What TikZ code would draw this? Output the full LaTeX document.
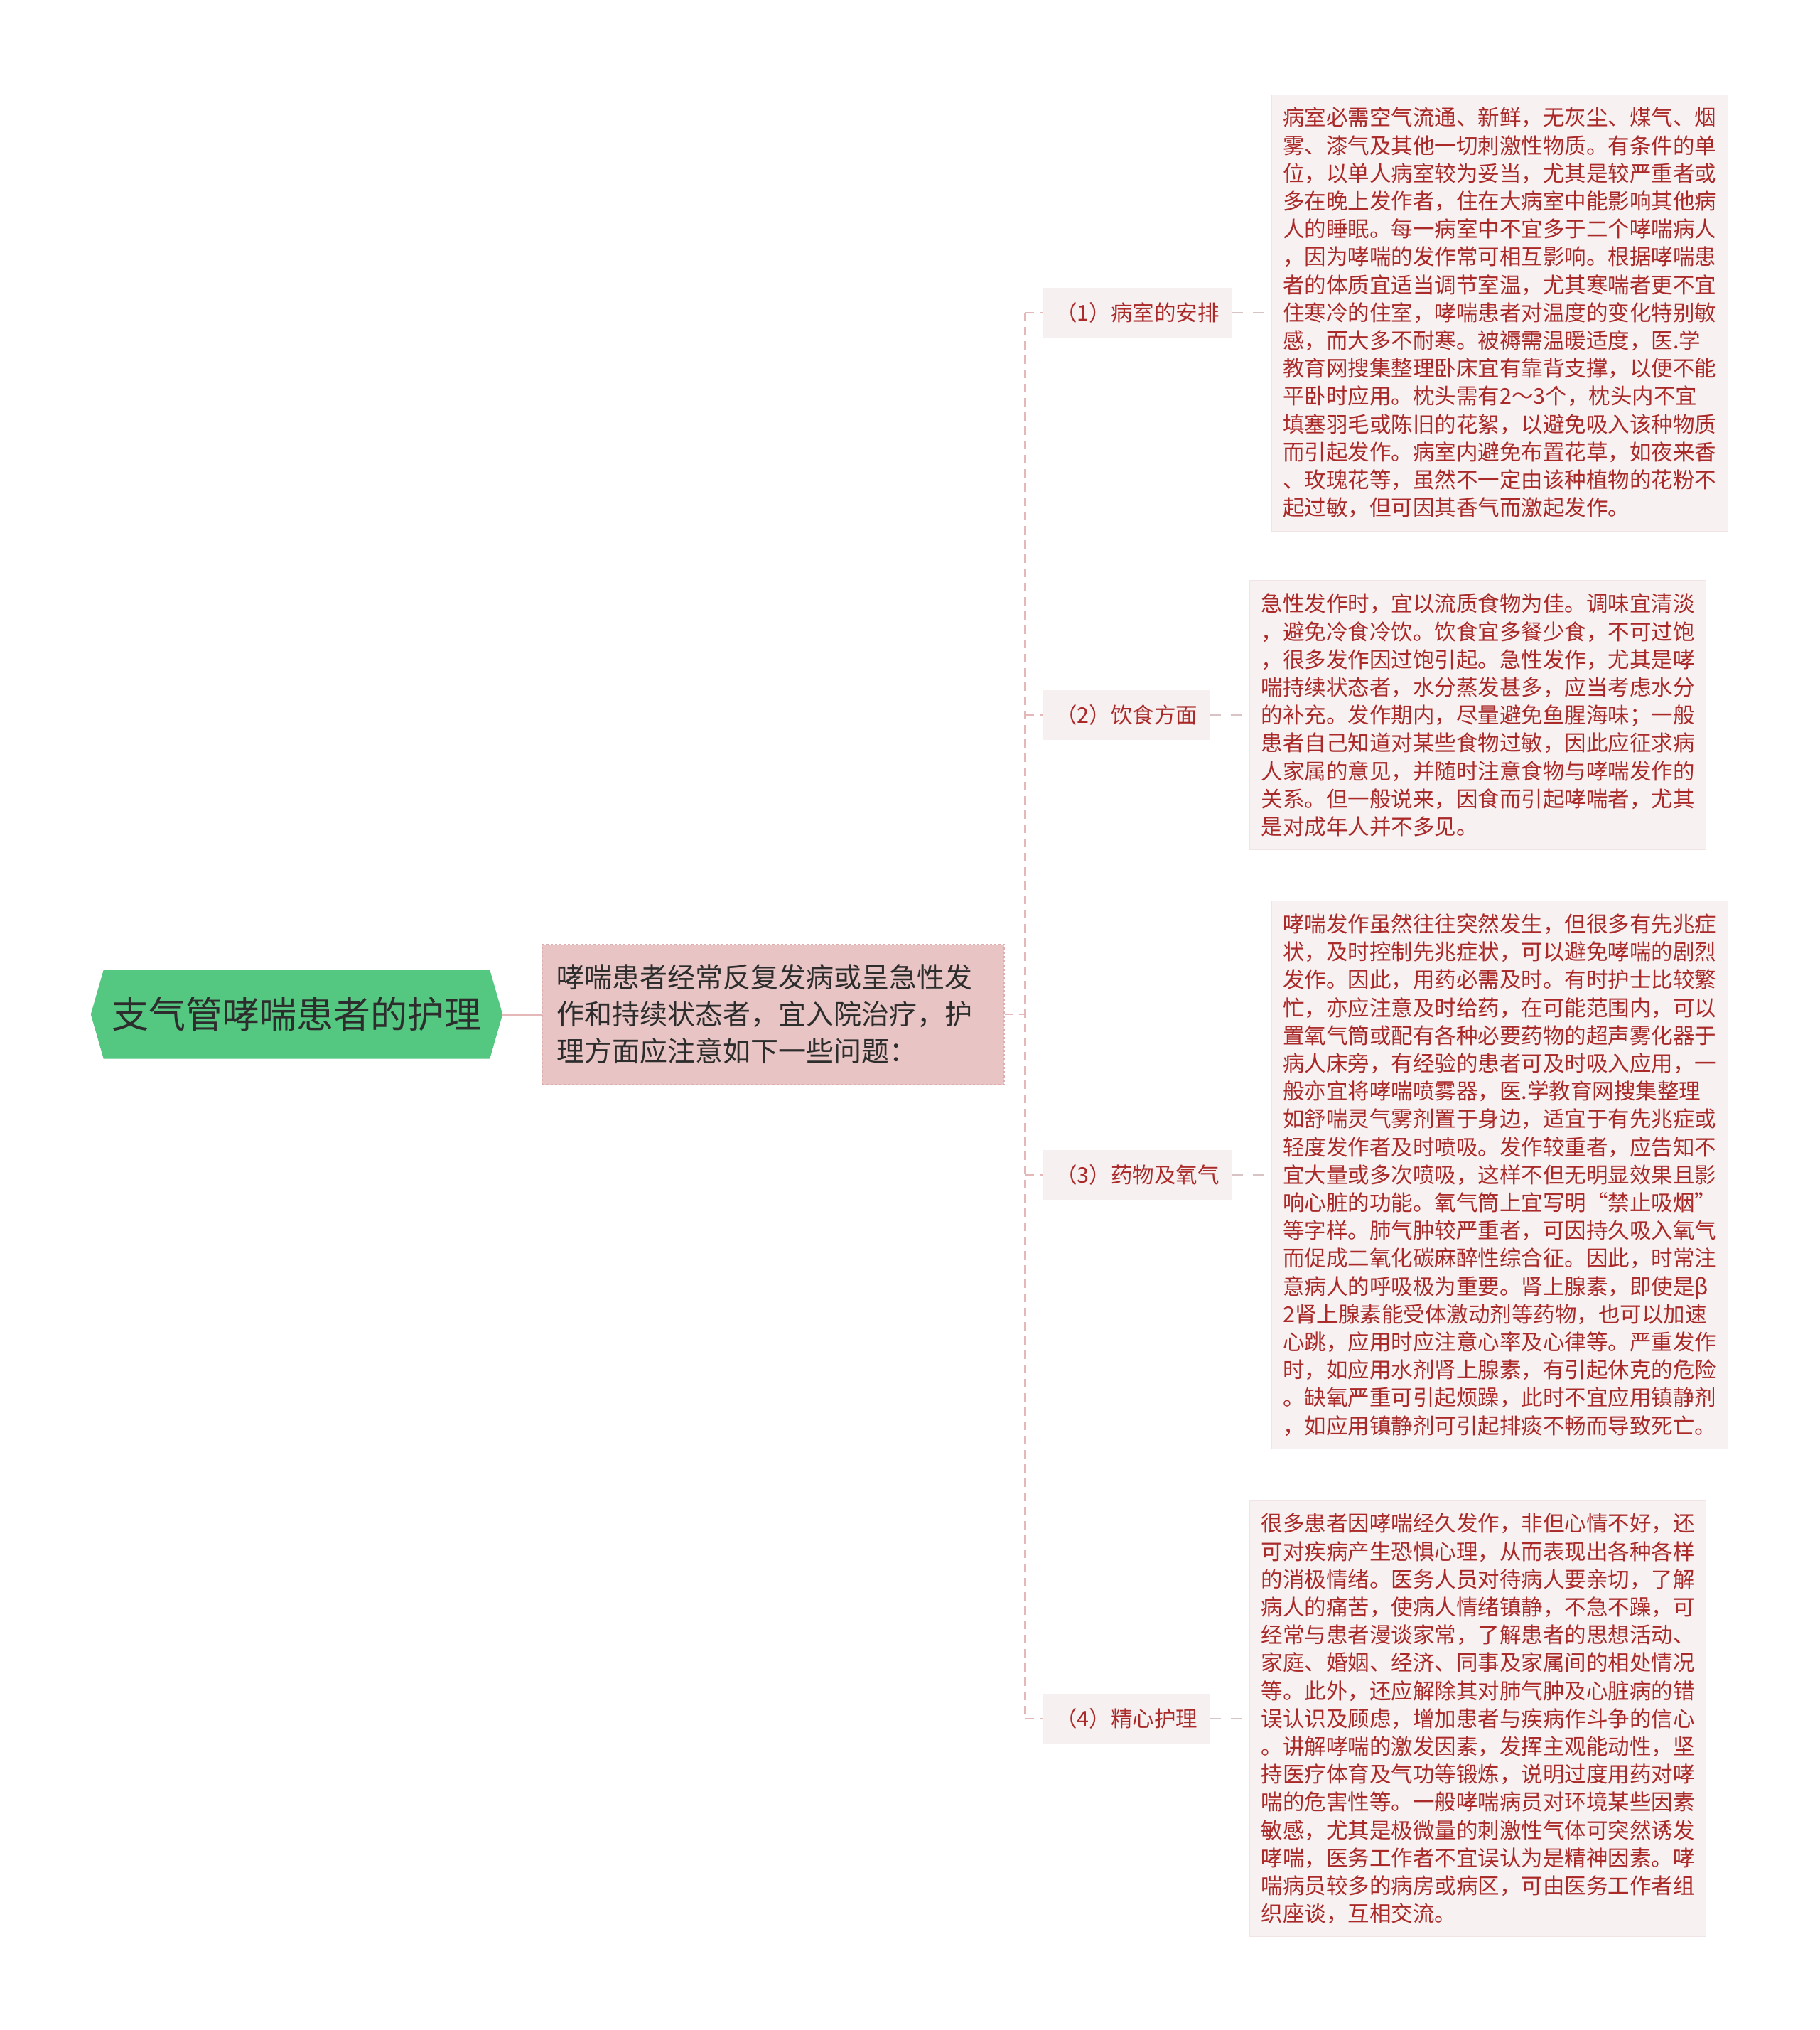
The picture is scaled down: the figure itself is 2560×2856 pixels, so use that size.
\documentclass[tikz,border=0pt]{standalone}
\usepackage{fontspec}
\setmainfont{Noto Sans CJK SC}
\usetikzlibrary{positioning}
\usetikzlibrary{backgrounds}

\definecolor{rootgreen}{RGB}{84,200,128}
\definecolor{rootink}{RGB}{45,45,45}
\definecolor{topicfill}{RGB}{232,196,196}
\definecolor{topicedge}{RGB}{222,174,174}
\definecolor{linkpink}{RGB}{228,184,184}
\definecolor{labelfill}{RGB}{247,240,240}
\definecolor{noteink}{RGB}{170,42,42}
\definecolor{notefill}{RGB}{248,241,241}
\definecolor{noteedge}{RGB}{240,228,228}
\definecolor{linkgrey}{RGB}{216,196,196}

\newcommand{\Asthmacare}{支气管哮喘患者的护理}
\newcommand{\Hospitalnote}{%
    哮喘患者经常反复发病或呈急性发\\
    作和持续状态者，宜入院治疗，护\\
    理方面应注意如下一些问题：%
}
\newcommand{\Wardnote}{%
    病室必需空气流通、新鲜，无灰尘、煤气、烟\\
    雾、漆气及其他一切刺激性物质。有条件的单\\
    位，以单人病室较为妥当，尤其是较严重者或\\
    多在晚上发作者，住在大病室中能影响其他病\\
    人的睡眠。每一病室中不宜多于二个哮喘病人\\
    ，因为哮喘的发作常可相互影响。根据哮喘患\\
    者的体质宜适当调节室温，尤其寒喘者更不宜\\
    住寒冷的住室，哮喘患者对温度的变化特别敏\\
    感，而大多不耐寒。被褥需温暖适度，医.学\\
    教育网搜集整理卧床宜有靠背支撑，以便不能\\
    平卧时应用。枕头需有2～3个，枕头内不宜\\
    填塞羽毛或陈旧的花絮，以避免吸入该种物质\\
    而引起发作。病室内避免布置花草，如夜来香\\
    、玫瑰花等，虽然不一定由该种植物的花粉不\\
    起过敏，但可因其香气而激起发作。%
}
\newcommand{\Dietnote}{%
    急性发作时，宜以流质食物为佳。调味宜清淡\\
    ，避免冷食冷饮。饮食宜多餐少食，不可过饱\\
    ，很多发作因过饱引起。急性发作，尤其是哮\\
    喘持续状态者，水分蒸发甚多，应当考虑水分\\
    的补充。发作期内，尽量避免鱼腥海味；一般\\
    患者自己知道对某些食物过敏，因此应征求病\\
    人家属的意见，并随时注意食物与哮喘发作的\\
    关系。但一般说来，因食而引起哮喘者，尤其\\
    是对成年人并不多见。%
}
\newcommand{\Drugnote}{%
    哮喘发作虽然往往突然发生，但很多有先兆症\\
    状，及时控制先兆症状，可以避免哮喘的剧烈\\
    发作。因此，用药必需及时。有时护士比较繁\\
    忙，亦应注意及时给药，在可能范围内，可以\\
    置氧气筒或配有各种必要药物的超声雾化器于\\
    病人床旁，有经验的患者可及时吸入应用，一\\
    般亦宜将哮喘喷雾器，医.学教育网搜集整理\\
    如舒喘灵气雾剂置于身边，适宜于有先兆症或\\
    轻度发作者及时喷吸。发作较重者，应告知不\\
    宜大量或多次喷吸，这样不但无明显效果且影\\
    响心脏的功能。氧气筒上宜写明“禁止吸烟”\\
    等字样。肺气肿较严重者，可因持久吸入氧气\\
    而促成二氧化碳麻醉性综合征。因此，时常注\\
    意病人的呼吸极为重要。肾上腺素，即使是β\\
    2肾上腺素能受体激动剂等药物，也可以加速\\
    心跳，应用时应注意心率及心律等。严重发作\\
    时，如应用水剂肾上腺素，有引起休克的危险\\
    。缺氧严重可引起烦躁，此时不宜应用镇静剂\\
    ，如应用镇静剂可引起排痰不畅而导致死亡。%
}
\newcommand{\Mindnote}{%
    很多患者因哮喘经久发作，非但心情不好，还\\
    可对疾病产生恐惧心理，从而表现出各种各样\\
    的消极情绪。医务人员对待病人要亲切，了解\\
    病人的痛苦，使病人情绪镇静，不急不躁，可\\
    经常与患者漫谈家常，了解患者的思想活动、\\
    家庭、婚姻、经济、同事及家属间的相处情况\\
    等。此外，还应解除其对肺气肿及心脏病的错\\
    误认识及顾虑，增加患者与疾病作斗争的信心\\
    。讲解哮喘的激发因素，发挥主观能动性，坚\\
    持医疗体育及气功等锻炼，说明过度用药对哮\\
    喘的危害性等。一般哮喘病员对环境某些因素\\
    敏感，尤其是极微量的刺激性气体可突然诱发\\
    哮喘，医务工作者不宜误认为是精神因素。哮\\
    喘病员较多的病房或病区，可由医务工作者组\\
    织座谈，互相交流。%
}

\begin{document}
\begin{tikzpicture}[x=1pt, y=-1pt,
                    rootbox/.style={
                        minimum width=579pt, minimum height=125pt,
                        inner sep=0pt, text=rootink,
                        font=\fontsize{52pt}{60pt}\selectfont
                    },
                    topicbox/.style={
                        fill=topicfill, draw=topicedge, dashed, line width=1.5pt,
                        text=rootink, inner xsep=21pt, inner ysep=0pt,
                        minimum height=197pt, text width=608pt, align=left,
                        font=\fontsize{39pt}{52pt}\selectfont
                    },
                    labelbox/.style={
                        fill=labelfill, text=noteink, minimum height=70pt,
                        inner xsep=17pt, font=\fontsize{30.5pt}{36pt}\selectfont
                    },
                    notebox/.style={
                        fill=notefill, draw=noteedge, line width=1pt,
                        text=noteink, text width=610pt, inner xsep=16pt,
                        inner ysep=18pt, align=left,
                        font=\fontsize{30.5pt}{39.2pt}\selectfont
                    },
                    mainlink/.style={draw=linkpink, line width=3pt},
                    trunklink/.style={draw=linkpink, line width=2.5pt,
                        dash pattern=on 12pt off 8pt},
                    notelink/.style={draw=linkgrey, line width=2pt,
                        dash pattern=on 16pt off 14pt}]

    \useasboundingbox (0,0) rectangle (2560,2856);

    \node[rootbox] (root) at (417.5,1427) {\Asthmacare};
    \begin{scope}[on background layer]
        \fill[rootgreen] (root.west) -- ([xshift=18pt]root.north west)
            -- ([xshift=-18pt]root.north east) -- (root.east)
            -- ([xshift=-18pt]root.south east) -- ([xshift=18pt]root.south west)
            -- cycle;
    \end{scope}

    \node[topicbox, right=55pt of root] (topic) {\Hospitalnote};
    \coordinate[right=29pt of topic] (trunk);

    \node[labelbox, anchor=west] (arrange) at (1468,440)  {（1）病室的安排};
    \node[labelbox, anchor=west] (diet)    at (1468,1006) {（2）饮食方面};
    \node[labelbox, anchor=west] (drug)    at (1468,1653) {（3）药物及氧气};
    \node[labelbox, anchor=west] (care)    at (1468,2418) {（4）精心护理};

    \node[notebox, right=56pt of arrange] (wardnote) {\Wardnote};
    \node[notebox, right=56pt of diet]    (dietnote) {\Dietnote};
    \node[notebox, right=56pt of drug]    (drugnote) {\Drugnote};
    \node[notebox, right=56pt of care]    (mindnote) {\Mindnote};

    \draw[mainlink] (root.east) -- (topic.west);
    \draw[trunklink] (topic.east) -- (trunk);
    \draw[trunklink] (trunk |- arrange.west) -- (trunk |- care.west);
    \foreach \lab/\note in {arrange/wardnote, diet/dietnote, drug/drugnote, care/mindnote} {
        \draw[trunklink] (trunk |- \lab.west) -- (\lab.west);
        \draw[notelink] (\lab.east) -- (\note.west);
    }

\end{tikzpicture}
\end{document}
